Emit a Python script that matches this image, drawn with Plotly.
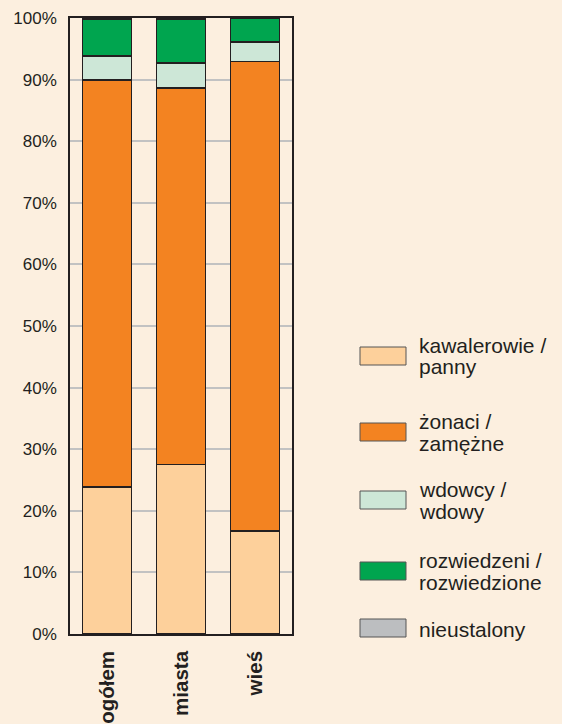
import plotly.graph_objects as go

categories = ["ogółem", "miasta", "wieś"]
series_names = ["kawalerowie / panny", "żonaci / zamężne", "wdowcy / wdowy",
                "rozwiedzeni / rozwiedzione", "nieustalony"]
legend_lines = [["kawalerowie /", "panny"], ["żonaci /", "zamężne"], ["wdowcy /", "wdowy"],
                ["rozwiedzeni /", "rozwiedzione"], ["nieustalony"]]
kawalerowie = [23.9, 27.5, 16.7]
zonaci = [66.0, 61.1, 76.2]
wdowcy = [3.9, 4.1, 3.2]
rozwiedzeni = [6.0, 7.1, 3.9]
nieustalony = [0.2, 0.2, 0.0]
y_tick_values = [0, 10, 20, 30, 40, 50, 60, 70, 80, 90, 100]
y_tick_labels = ["0%", "10%", "20%", "30%", "40%", "50%", "60%", "70%", "80%", "90%", "100%"]

series_values = [kawalerowie, zonaci, wdowcy, rozwiedzeni, nieustalony]
colors = ["#FDD09B", "#F38321", "#CDE7D7", "#00A54F", "#BCBEC0"]

BG = "#FCEFDF"
DARK = "#231F20"
FONT = "Liberation Sans, Arial"
W, H = 562, 724
L, R, T, B = 70, 292, 18, 634

fig = go.Figure()
for name, vals, col in zip(series_names, series_values, colors):
    fig.add_trace(go.Bar(x=categories, y=vals, name=name,
                         marker=dict(color=col, line=dict(color=DARK, width=1.5)),
                         showlegend=False))

def px_x(px):
    return (px - L) / (R - L)

def px_y(py):
    return (B - py) / (B - T)

legend_centers = [356, 432, 500, 571, 628]
shapes = []
annotations = []
for lines, col, cy in zip(legend_lines, colors, legend_centers):
    shapes.append(dict(type="rect", xref="paper", yref="paper",
                       x0=px_x(360), x1=px_x(406), y0=px_y(cy + 9), y1=px_y(cy - 9),
                       fillcolor=col, line=dict(color="#555555", width=1)))
    offsets = [-10.5, 11] if len(lines) == 2 else [1]
    for line, off in zip(lines, offsets):
        annotations.append(dict(xref="paper", yref="paper", x=px_x(417), y=px_y(cy + off),
                                xanchor="left", yanchor="middle", align="left",
                                text=line, showarrow=False,
                                font=dict(family=FONT, size=21, color=DARK)))

fig.update_layout(
    width=W, height=H,
    margin=dict(l=L, r=W - R, t=T, b=H - B, autoexpand=False),
    paper_bgcolor=BG, plot_bgcolor=BG,
    barmode="stack", bargap=0.34,
    shapes=shapes, annotations=annotations,
    font=dict(family=FONT, color=DARK),
)
fig.update_yaxes(range=[0, 100], tickvals=y_tick_values, ticktext=y_tick_labels,
                 showgrid=True, gridcolor="#C2C2C2", gridwidth=1.5,
                 showline=True, linecolor=DARK, linewidth=1.5, mirror=True,
                 ticks="", ticklabelstandoff=8, zeroline=False, automargin=False,
                 tickfont=dict(size=17, color=DARK))
fig.update_xaxes(showline=True, linecolor=DARK, linewidth=1.5, mirror=True,
                 tickangle=-90, ticks="", ticklabelstandoff=7, automargin=False,
                 tickfont=dict(size=20.5, color=DARK, weight="bold"))

fig.write_html("out.html", config={"displayModeBar": False},
               post_script="document.documentElement.style.margin='0';"
                           "document.body.style.margin='0';"
                           "document.body.style.overflow='hidden';")
